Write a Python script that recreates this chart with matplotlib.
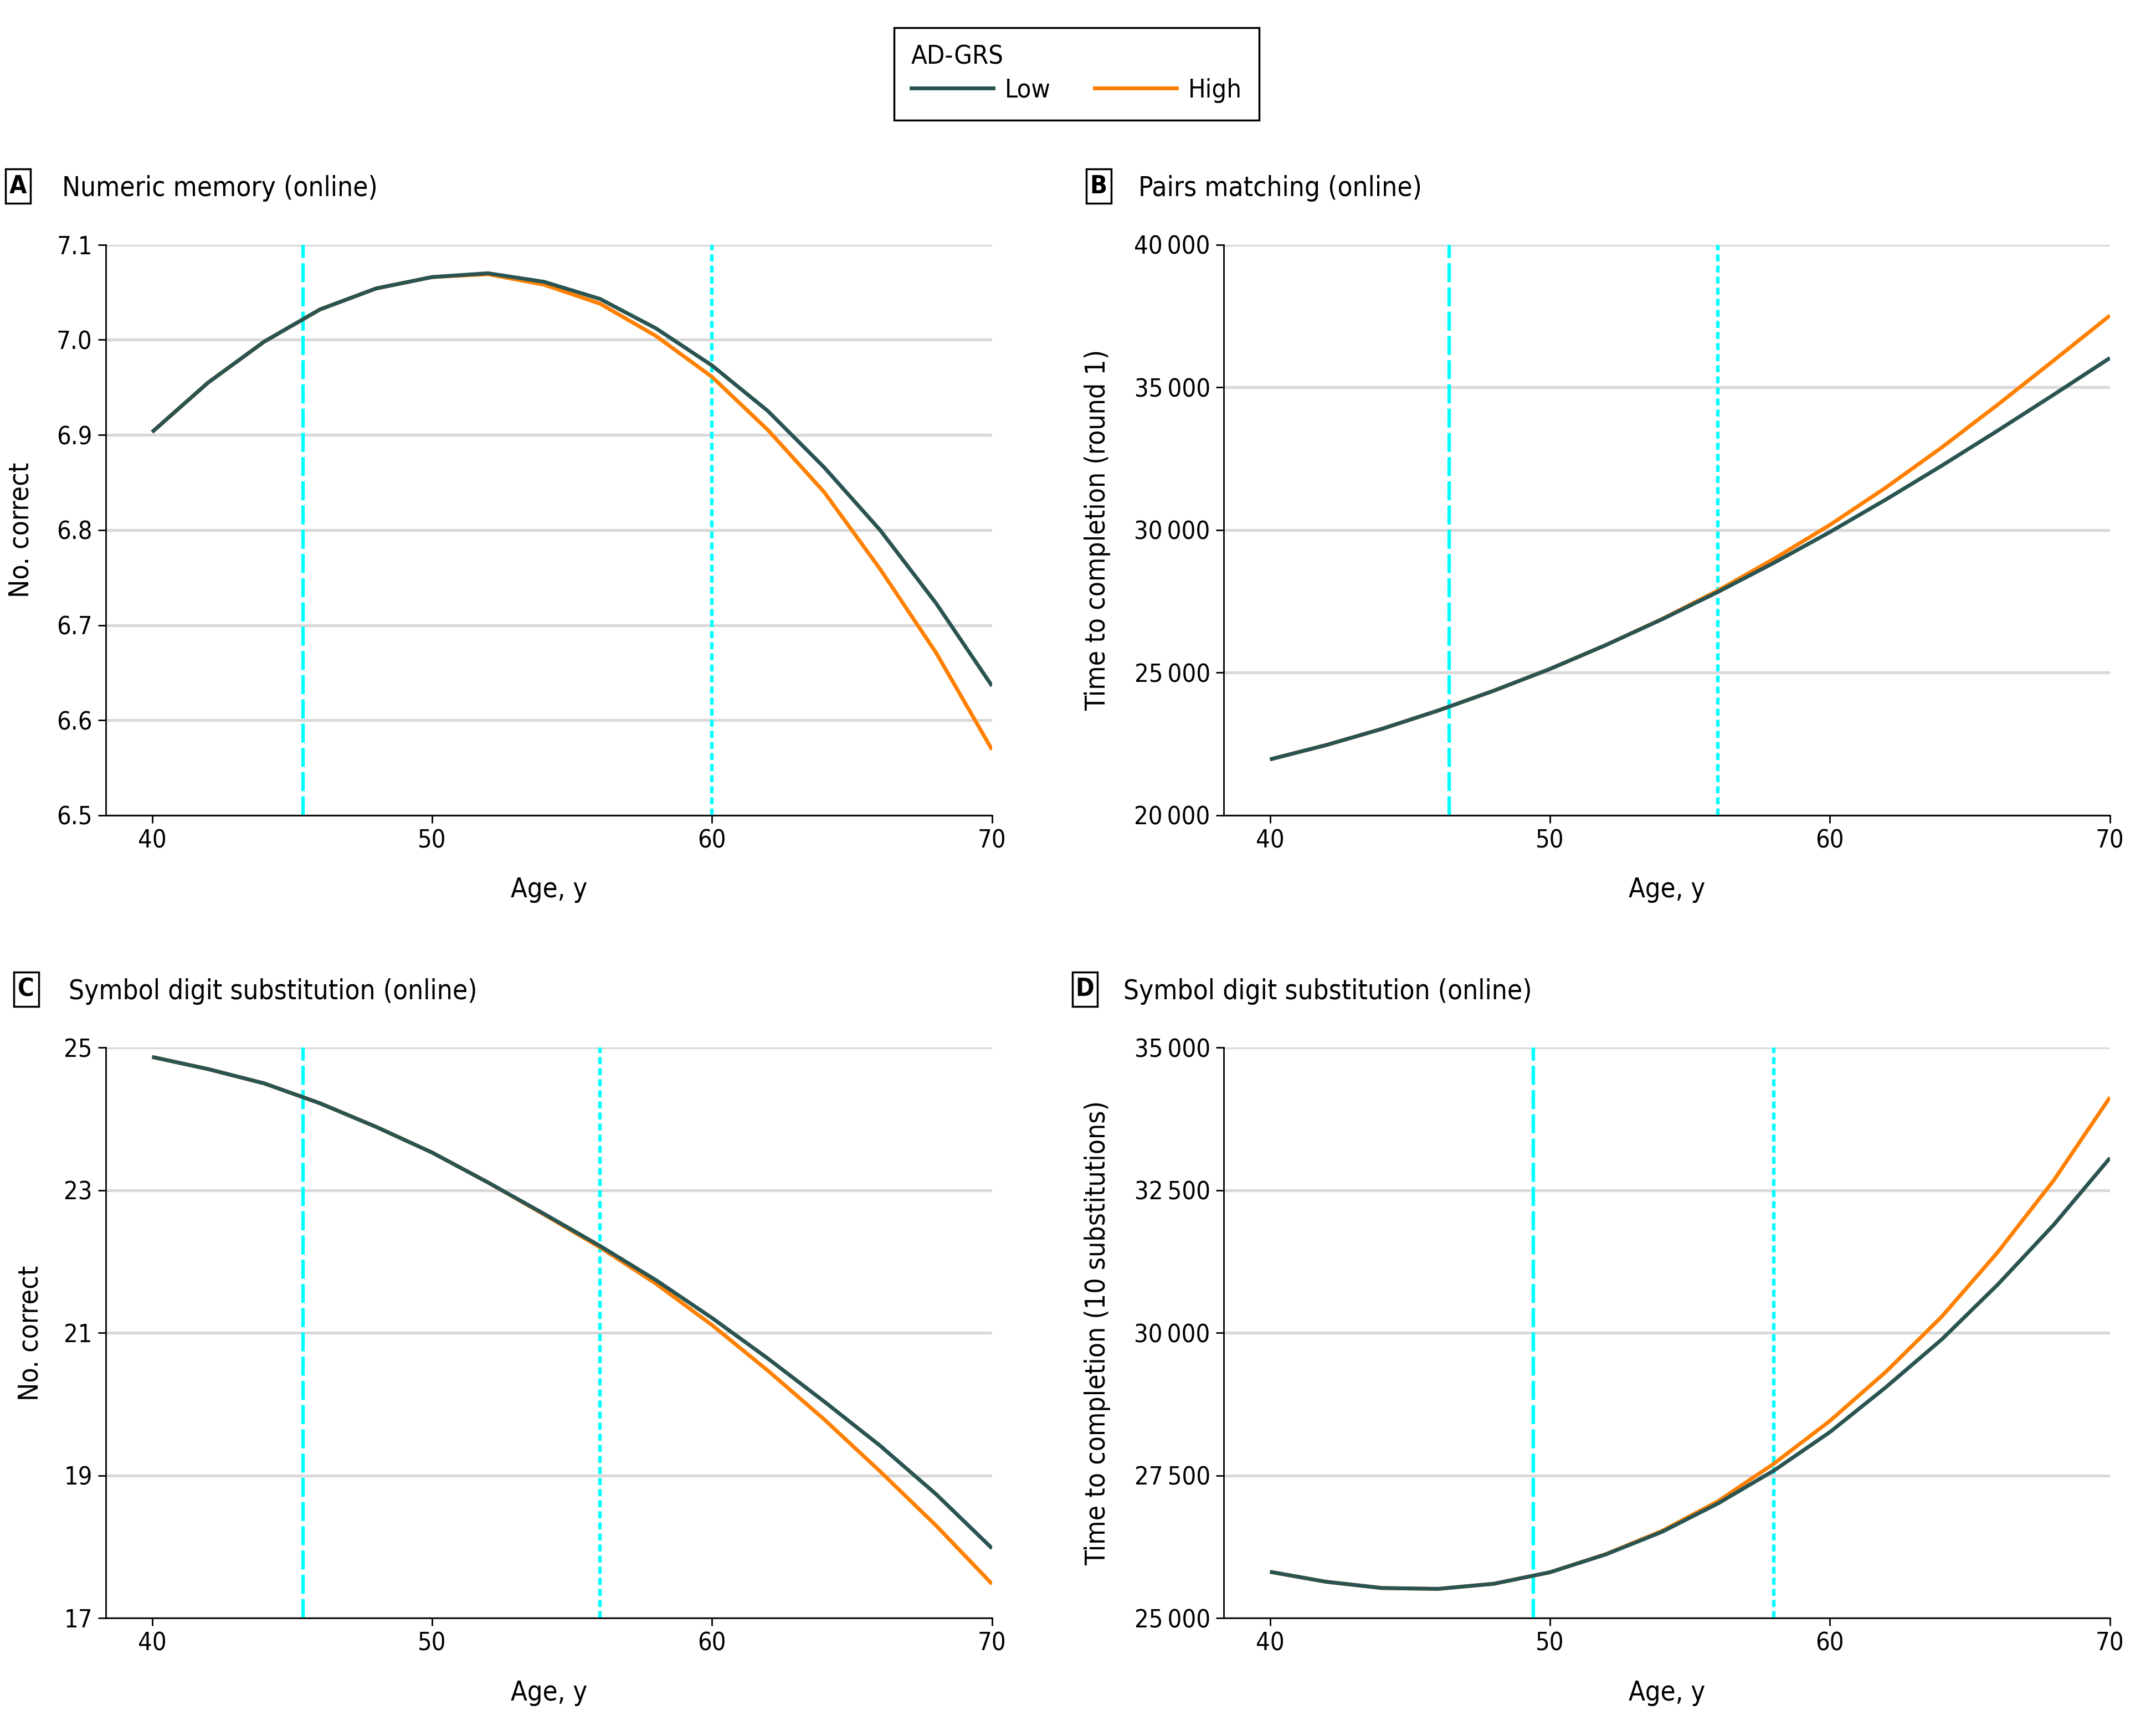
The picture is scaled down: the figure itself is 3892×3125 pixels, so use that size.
import matplotlib
matplotlib.use('Agg')
import matplotlib.pyplot as plt
from matplotlib.patches import Rectangle
from matplotlib.lines import Line2D
from matplotlib.ticker import FixedLocator, FuncFormatter

plt.rcParams['font.family'] = ['DejaVu Sans']
plt.rcParams['font.stretch'] = 'condensed'

# ---------------- data ----------------
ages = [40, 42, 44, 46, 48, 50, 52, 54, 56, 58, 60, 62, 64, 66, 68, 70]

a_low = [6.903, 6.955, 6.998, 7.032, 7.054, 7.066, 7.070, 7.061, 7.043, 7.012,
         6.973, 6.925, 6.866, 6.800, 6.723, 6.636]
a_high = [6.903, 6.955, 6.998, 7.032, 7.054, 7.066, 7.069, 7.058, 7.038, 7.004,
          6.961, 6.905, 6.840, 6.759, 6.671, 6.569]

b_low = [21960, 22460, 23030, 23670, 24370, 25130, 25970, 26870, 27830, 28850,
         29930, 31070, 32260, 33490, 34750, 36030]
b_high = [21960, 22460, 23030, 23670, 24370, 25130, 25970, 26880, 27880, 28990,
          30180, 31490, 32900, 34400, 35950, 37520]

c_low = [24.87, 24.70, 24.50, 24.22, 23.89, 23.53, 23.11, 22.67, 22.22, 21.74,
         21.21, 20.64, 20.04, 19.42, 18.74, 17.98]
c_high = [24.87, 24.70, 24.50, 24.22, 23.89, 23.53, 23.11, 22.66, 22.20, 21.69,
          21.11, 20.47, 19.79, 19.06, 18.30, 17.48]

d_low = [25814, 25640, 25530, 25515, 25605, 25806, 26120, 26514, 27012, 27589,
         28263, 29050, 29890, 30852, 31900, 33067]
d_high = [25814, 25640, 25530, 25515, 25605, 25806, 26125, 26530, 27050, 27710,
          28460, 29320, 30290, 31420, 32680, 34130]

a_vlines = [45.4, 60.0]
b_vlines = [46.4, 56.0]
c_vlines = [45.4, 56.0]
d_vlines = [49.4, 58.0]

a_yticks = [6.5, 6.6, 6.7, 6.8, 6.9, 7.0, 7.1]
b_yticks = [20000, 25000, 30000, 35000, 40000]
c_yticks = [17, 19, 21, 23, 25]
d_yticks = [25000, 27500, 30000, 32500, 35000]
x_ticks = [40, 50, 60, 70]

titles = ['Numeric memory (online)', 'Pairs matching (online)',
          'Symbol digit substitution (online)', 'Symbol digit substitution (online)']
ylabels = ['No. correct', 'Time to completion (round 1)', 'No. correct',
           'Time to completion (10 substitutions)']
legend_labels = ['Low', 'High']
legend_title = 'AD-GRS'

# ---------------- style ----------------
LOW_C = '#2a5452'
HIGH_C = '#ff8000'
CYAN = '#00ffff'
GRID_C = '#d9d9d9'

W, H = 1568.0, 1259.0
def fx(px):
    return px / W
def fy(py):
    return 1 - py / H

fig = plt.figure(figsize=(15.568, 12.5), dpi=250)

def thin_fmt(v, pos):
    s = f'{int(round(v)):,}'
    return s.replace(',', '\u2009')

panels = [
    dict(key='A', rect=(77, 178, 721.5, 593), low=a_low, high=a_high, vl=a_vlines,
         yt=a_yticks, fmt=lambda v, p: f'{v:.1f}', box=(4, 123), tx=45, ylx=15),
    dict(key='B', rect=(890, 178, 1534.5, 593), low=b_low, high=b_high, vl=b_vlines,
         yt=b_yticks, fmt=thin_fmt, box=(790, 123), tx=828, ylx=798),
    dict(key='C', rect=(77, 762, 721.5, 1177), low=c_low, high=c_high, vl=c_vlines,
         yt=c_yticks, fmt=lambda v, p: f'{int(v)}', box=(10, 707), tx=50, ylx=22),
    dict(key='D', rect=(890, 762, 1534.5, 1177), low=d_low, high=d_high, vl=d_vlines,
         yt=d_yticks, fmt=thin_fmt, box=(780, 707), tx=817, ylx=798),
]

for i, p in enumerate(panels):
    l, t, r, b = p['rect']
    ax = fig.add_axes([fx(l), fy(b), (r - l) / W, (b - t) / H])
    ax.set_xlim(38.35, 70)
    ax.set_ylim(p['yt'][0], p['yt'][-1])
    ax.yaxis.set_major_locator(FixedLocator(p['yt']))
    ax.yaxis.set_major_formatter(FuncFormatter(p['fmt']))
    ax.xaxis.set_major_locator(FixedLocator(x_ticks))
    ax.yaxis.grid(True, color=GRID_C, lw=1.5)
    ax.set_axisbelow(True)
    for s in ['top', 'right']:
        ax.spines[s].set_visible(False)
    for s in ['left', 'bottom']:
        ax.spines[s].set_linewidth(0.8)
        ax.spines[s].set_color('black')
    ax.tick_params(direction='out', length=4, width=0.8, labelsize=13, pad=3,
                   colors='black')
    # vertical reference lines
    ax.axvline(p['vl'][0], color=CYAN, lw=1.8, ls=(0, (5.5, 1.5)), zorder=2)
    ax.axvline(p['vl'][1], color=CYAN, lw=1.8, ls=(0, (2.0, 1.2)), zorder=2)
    ax.plot(ages, p['high'], color=HIGH_C, lw=2.0, zorder=3, solid_capstyle='butt')
    ax.plot(ages, p['low'], color=LOW_C, lw=2.0, zorder=4, solid_capstyle='butt')

    # panel label box + title
    bx, by = p['box']
    fig.add_artist(Rectangle((fx(bx), fy(by + 25)), 18 / W, 25 / H,
                             transform=fig.transFigure, fill=False,
                             edgecolor='black', lw=1.0))
    fig.text(fx(bx + 9), fy(by + 12.5), p['key'], ha='center', va='center',
             fontsize=13, fontweight='bold')
    fig.text(fx(p['tx']), fy(by + 14), titles[i], ha='left', va='center',
             fontsize=14.2)
    # y label
    fig.text(fx(p['ylx']), fy((t + b) / 2), ylabels[i], rotation=90,
             ha='center', va='center', fontsize=14.3)
    # x label
    fig.text(fx((l + r) / 2), fy(b + 54), 'Age, y', ha='center', va='center',
             fontsize=14)

handles = [Line2D([0], [0], color=LOW_C, lw=2.0),
           Line2D([0], [0], color=HIGH_C, lw=2.0)]
leg = fig.legend(handles, legend_labels, title=legend_title, ncol=2,
                 loc='upper center', bbox_to_anchor=(fx(783), fy(20)),
                 frameon=True, fancybox=False, edgecolor='black', framealpha=1,
                 alignment='left', fontsize=13.5, title_fontsize=13.5,
                 handlelength=3.15, handletextpad=0.45, columnspacing=1.7,
                 labelspacing=0.32, borderpad=0.66, borderaxespad=0)
leg.get_frame().set_linewidth(1.0)

fig.savefig('out.png', dpi=250)
